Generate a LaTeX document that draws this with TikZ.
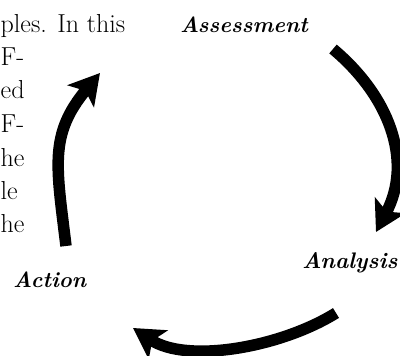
\documentclass[tikz,border=0pt]{standalone}
\usepackage{tikz}
\usetikzlibrary{arrows.meta}
\tikzset{
	page_line/.style = {
		anchor=base west,
		inner sep=0pt,
		font=\fontsize{26}{30}\selectfont
	},
	cycle_label/.style = {
		anchor=base west,
		inner sep=0pt,
		font=\fontsize{22}{26}\selectfont\bfseries\itshape
	},
	cycle_arrow/.style = {
		line width=11.5pt,
		-{Stealth[length=30pt,width=34pt,inset=7pt]}
	},
}

\begin{document}
\begin{tikzpicture}[x=1pt,y=-1pt]
\useasboundingbox (0,0) rectangle (400,356);
% text column beside the picture
\node [page_line] (l1) at (0.5,32) {ples. In this};
\node [page_line] (l2) at (0.5,65.5) {F-};
\node [page_line] (l3) at (0.5,99) {ed};
\node [page_line] (l4) at (0.5,132.5) {F-};
\node [page_line] (l5) at (0.5,166) {he};
\node [page_line] (l6) at (0.5,199.5) {le};
\node [page_line] (l7) at (0.5,233) {he};
% the cycle
\node [cycle_label] (assessment) at (180,33) {Assessment};
\node [cycle_label, font=\fontsize{22.5}{26}\selectfont\bfseries\itshape] (analysis) at (302,268) {Analysis};
\node [cycle_label] (action) at (13,287) {Action};
\coordinate (asm_out) at (333,49);
\coordinate (ana_in) at (376,232);
\coordinate (ana_out) at (336,313);
\coordinate (act_in) at (133,328);
\coordinate (act_out) at (66,246);
\coordinate (asm_in) at (100,73);
\draw [cycle_arrow] (asm_out) .. controls (388,95) and (414,160) .. (ana_in);
\draw [cycle_arrow] (ana_out) .. controls (280.7,347.5) and (187,363.8) .. (act_in);
\draw [cycle_arrow] (act_out) .. controls (56.4,166) and (48.8,134.6) .. (asm_in);
\end{tikzpicture}
\end{document}
